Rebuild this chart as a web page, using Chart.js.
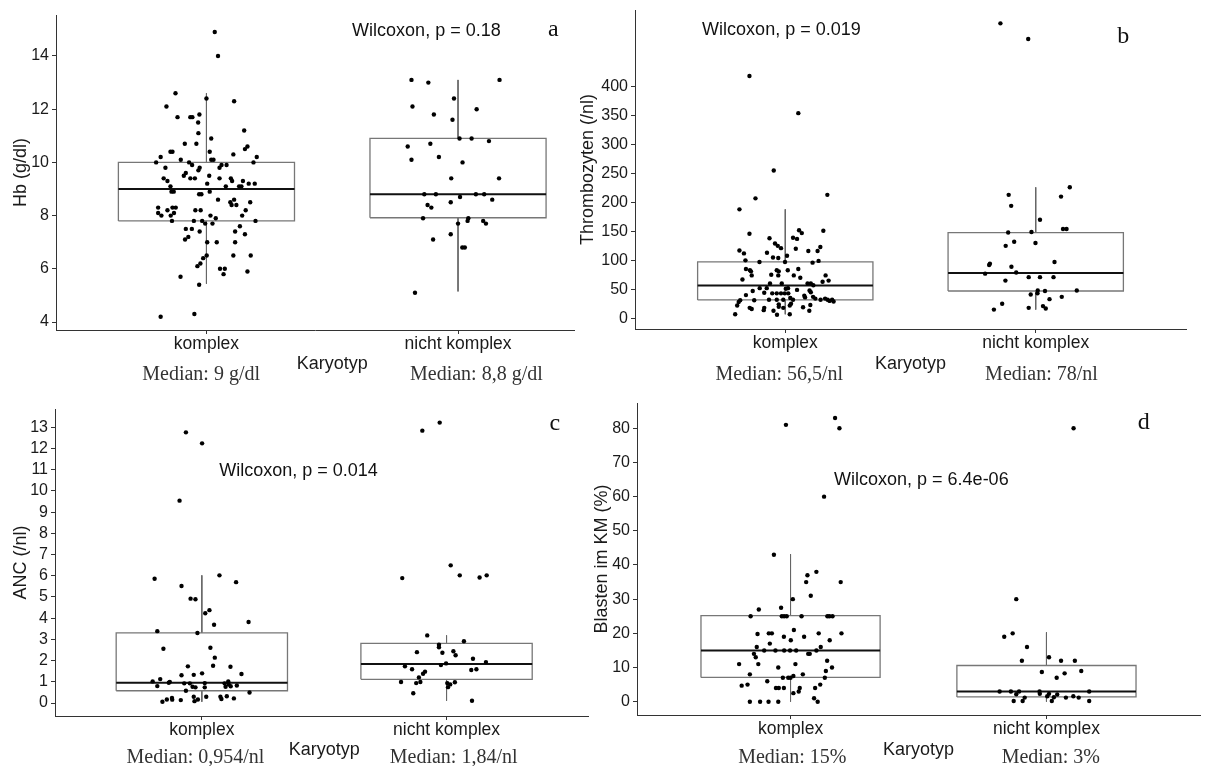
<!DOCTYPE html>
<html>
<head>
<meta charset="utf-8">
<script src="https://cdn.jsdelivr.net/npm/chart.js@4.4.1/dist/chart.umd.min.js"></script>
<style>
  body { margin: 0; background: #fff; width: 1205px; height: 766px; position: relative; overflow: hidden; }
  canvas { position: absolute; }
</style>
</head>
<body>
<canvas id="chartA" width="600" height="395" style="left:0;top:0"></canvas>
<canvas id="chartB" width="638" height="395" style="left:567px;top:0"></canvas>
<canvas id="chartC" width="600" height="371" style="left:0;top:395px"></canvas>
<canvas id="chartD" width="624" height="371" style="left:581px;top:395px"></canvas>
<script>
// categories on the x axis
const categories = ['komplex', 'nicht komplex'];

// tick labels of each panel
const hbTicks = [4, 6, 8, 10, 12, 14];
const pltTicks = [0, 50, 100, 150, 200, 250, 300, 350, 400];
const ancTicks = [0, 1, 2, 3, 4, 5, 6, 7, 8, 9, 10, 11, 12, 13];
const blastTicks = [0, 10, 20, 30, 40, 50, 60, 70, 80];

// box statistics [lower whisker, Q1, median, Q3, upper whisker]
const hbBoxes = [[5.44, 7.8, 9.0, 10.0, 12.6], [5.15, 7.92, 8.8, 10.9, 13.1]];
const pltBoxes = [[6.9, 31.6, 56.5, 97.2, 188], [14.9, 47.1, 78, 147.8, 226]];
const ancBoxes = [[0.06, 0.58, 0.954, 3.31, 6.02], [0.11, 1.12, 1.84, 2.81, 3.19]];
const blastBoxes = [[0, 7.1, 15, 25.2, 43.2], [0, 1.4, 3, 10.6, 20.3]];

// single observations: [jitter, value]
const hbKomplex = [[0.033,14.9],[0.046,14.0],[-0.123,12.6],[0.000,12.4],[0.110,12.3],[-0.159,12.1],[-0.028,11.8],[-0.115,11.7],[-0.064,11.7],[-0.056,11.7],[-0.033,11.5],[0.150,11.2],[-0.032,11.1],[0.019,10.9],[-0.086,10.7],[-0.040,10.7],[0.163,10.6],[0.153,10.5],[-0.143,10.4],[-0.135,10.4],[0.013,10.4],[0.107,10.3],[-0.182,10.2],[0.200,10.2],[-0.102,10.1],[0.019,10.1],[0.028,10.1],[-0.200,10.0],[0.187,10.0],[-0.069,10.0],[-0.057,9.9],[0.060,9.9],[0.080,9.9],[-0.163,9.8],[0.052,9.8],[-0.027,9.8],[-0.032,9.7],[-0.082,9.6],[-0.090,9.5],[0.011,9.5],[-0.170,9.4],[-0.155,9.3],[-0.064,9.4],[-0.046,9.4],[0.052,9.4],[0.097,9.4],[0.102,9.3],[0.003,9.2],[0.145,9.3],[0.168,9.2],[0.192,9.2],[0.077,9.1],[0.130,9.1],[0.139,9.1],[-0.143,9.1],[-0.139,8.9],[-0.130,8.9],[-0.029,8.8],[-0.020,8.8],[0.013,8.9],[0.046,8.6],[0.095,8.5],[0.100,8.4],[0.110,8.6],[0.119,8.4],[0.174,8.5],[-0.192,8.3],[-0.135,8.3],[-0.122,8.3],[-0.155,8.2],[-0.044,8.2],[-0.023,8.2],[0.156,8.2],[-0.192,8.1],[-0.129,8.1],[-0.179,8.0],[-0.142,8.0],[0.142,8.0],[0.016,8.0],[0.037,7.9],[-0.137,7.8],[-0.050,7.8],[-0.017,7.8],[-0.005,7.7],[0.024,7.7],[0.195,7.8],[0.133,7.6],[-0.082,7.5],[-0.058,7.5],[-0.027,7.4],[0.114,7.4],[-0.072,7.2],[-0.085,7.1],[0.153,7.3],[0.003,7.0],[0.041,7.0],[0.114,7.0],[0.001,6.5],[-0.013,6.4],[0.107,6.5],[0.176,6.5],[-0.024,6.2],[-0.036,6.1],[0.054,6.0],[0.073,6.0],[0.068,5.8],[0.163,5.9],[-0.103,5.7],[-0.029,5.4],[-0.182,4.2],[-0.048,4.3]];
const hbNicht = [[-0.185,13.1],[-0.118,13.0],[0.165,13.1],[-0.016,12.4],[-0.181,12.1],[0.074,12.0],[-0.096,11.8],[-0.022,11.6],[0.006,10.9],[0.054,10.9],[0.123,10.8],[-0.200,10.6],[-0.110,10.7],[-0.185,10.1],[-0.076,10.2],[0.018,10.0],[-0.027,9.4],[0.163,9.4],[-0.134,8.8],[-0.088,8.8],[0.071,8.8],[0.104,8.8],[0.008,8.7],[0.136,8.6],[-0.029,8.5],[-0.121,8.4],[-0.106,8.3],[-0.139,7.9],[0.041,7.9],[0.038,7.8],[0.100,7.8],[0.000,7.7],[0.111,7.7],[-0.029,7.3],[-0.099,7.1],[0.017,6.8],[0.027,6.8],[-0.171,5.1]];

const pltKomplex = [[-0.143,418],[0.052,354],[-0.046,255],[0.168,213],[-0.119,207],[-0.183,188],[-0.143,146],[0.055,152],[0.066,147],[0.152,151],[0.031,139],[0.047,137],[-0.063,138],[-0.041,129],[-0.030,125],[-0.017,121],[0.140,123],[0.042,120],[-0.183,117],[-0.165,112],[-0.073,113],[0.092,116],[0.129,116],[-0.049,105],[-0.028,104],[0.007,108],[-0.159,100],[0.109,96],[0.133,99],[-0.103,97],[-0.001,97],[-0.157,85],[-0.141,83],[-0.137,81],[-0.034,83],[-0.026,81],[0.010,83],[0.052,85],[-0.056,75],[-0.028,74],[0.034,74],[0.060,70],[-0.171,67],[-0.134,74],[0.161,74],[0.173,65],[-0.061,60],[-0.014,60],[0.089,60],[0.102,60],[0.112,57],[0.149,63],[-0.102,52],[-0.074,52],[0.002,51],[0.011,52],[0.047,49],[0.097,48],[0.102,45],[-0.130,47],[-0.084,44],[-0.052,43],[-0.034,43],[-0.017,43],[-0.002,43],[0.012,43],[-0.157,40],[0.076,39],[0.020,35],[0.079,36],[0.111,37],[0.120,34],[-0.124,31],[-0.065,32],[-0.034,32],[-0.008,32],[0.031,32],[0.141,32],[0.159,34],[0.169,32],[0.177,30],[0.187,32],[0.193,29],[-0.180,31],[-0.186,28],[-0.192,22],[-0.142,18],[-0.134,16],[-0.084,18],[-0.086,14],[-0.026,24],[-0.026,20],[-0.008,18],[0.018,22],[0.023,25],[0.071,19],[0.096,13],[0.100,23],[-0.047,13],[-0.200,7],[-0.033,6],[0.018,7]];
const pltNicht = [[-0.141,509],[-0.030,482],[0.136,226],[-0.108,213],[0.101,210],[-0.098,194],[0.017,170],[0.109,154],[0.123,154],[-0.110,148],[-0.017,149],[-0.086,132],[-0.120,125],[-0.001,130],[-0.183,94],[-0.186,92],[0.075,97],[-0.097,89],[-0.202,77],[-0.078,79],[-0.121,65],[-0.028,71],[0.017,71],[0.071,71],[0.008,48],[0.037,47],[0.164,48],[-0.020,41],[0.007,43],[0.055,33],[0.104,37],[-0.134,25],[-0.167,15],[-0.028,18],[0.029,21],[0.040,17]];

const ancKomplex = [[-0.065,12.76],[0.001,12.24],[-0.091,9.54],[-0.193,5.86],[0.072,6.02],[-0.083,5.52],[0.140,5.70],[-0.046,4.92],[-0.026,4.89],[0.031,4.38],[0.014,4.23],[0.050,3.69],[0.191,3.82],[-0.182,3.39],[-0.018,3.30],[-0.157,2.56],[0.035,2.61],[0.053,2.14],[-0.057,1.73],[0.046,1.76],[0.117,1.71],[0.162,1.37],[-0.083,1.31],[-0.033,1.33],[0.001,1.40],[-0.170,1.13],[-0.201,1.02],[-0.135,0.96],[-0.131,1.00],[-0.072,0.93],[-0.049,0.93],[0.012,0.94],[0.093,0.93],[0.108,1.02],[0.110,0.88],[-0.182,0.80],[-0.038,0.77],[-0.026,0.74],[0.012,0.74],[0.097,0.77],[0.118,0.79],[0.143,0.83],[-0.065,0.58],[0.195,0.50],[-0.161,0.06],[-0.143,0.17],[-0.122,0.24],[-0.121,0.16],[-0.086,0.14],[-0.030,0.09],[-0.033,0.30],[-0.016,0.17],[0.018,0.30],[0.076,0.30],[0.080,0.19],[0.102,0.32],[0.131,0.22]];
const ancNicht = [[-0.028,13.22],[-0.099,12.84],[0.017,6.49],[0.054,6.02],[-0.181,5.89],[0.135,5.92],[0.164,6.02],[-0.079,3.19],[0.071,2.91],[-0.031,2.75],[-0.031,2.63],[-0.121,2.40],[-0.017,2.37],[0.028,2.44],[0.037,2.25],[0.108,2.09],[0.161,1.93],[-0.002,1.87],[-0.023,1.79],[-0.170,1.73],[-0.141,1.59],[0.101,1.56],[0.122,1.59],[-0.088,1.48],[-0.096,1.38],[-0.113,1.21],[-0.186,0.99],[-0.124,0.94],[-0.107,0.99],[0.003,0.94],[0.015,0.88],[0.034,0.98],[0.006,0.75],[-0.136,0.46],[0.104,0.11]];

const blastKomplex = [[0.174,83],[-0.018,81],[0.191,80],[0.131,60],[-0.065,43],[0.101,38],[0.066,37],[0.061,35],[0.196,35],[0.079,31],[0.009,30],[-0.124,27],[-0.037,27.5],[-0.156,25],[-0.034,25],[-0.025,25],[-0.015,25],[0.043,25],[0.144,25],[0.152,25],[0.164,25],[-0.085,20],[-0.073,20],[-0.129,19.8],[0.110,20],[0.199,20],[0.013,21],[0.053,19],[-0.026,19],[0.001,18],[0.153,18],[-0.081,17],[-0.132,16],[0.118,16],[-0.103,15],[-0.059,15],[-0.025,15],[-0.002,15],[0.022,15],[0.101,15],[-0.143,14],[-0.136,13],[0.069,14],[0.075,14],[0.143,12],[-0.201,11],[-0.126,11],[0.019,11],[0.162,10],[-0.048,10],[0.138,9],[-0.159,8],[0.048,8],[-0.030,7],[-0.009,7],[0.000,7],[0.011,7.5],[0.134,7],[-0.091,6],[-0.191,4.7],[-0.168,5],[0.116,5],[-0.057,4],[-0.046,4],[-0.026,4],[0.096,4],[0.036,4],[0.032,3],[0.011,2.5],[0.092,1],[0.106,0],[-0.159,0],[-0.119,0],[-0.086,0],[-0.048,0]];
const blastNicht = [[0.106,80],[-0.118,30],[-0.165,19],[-0.132,20],[-0.076,16],[-0.096,12],[0.010,13],[0.057,12],[0.111,12],[-0.018,8.7],[0.136,9],[0.071,8.3],[0.040,7],[-0.183,3],[-0.139,3],[-0.107,3],[-0.027,3],[0.167,3],[-0.118,2.2],[-0.026,2.3],[0.010,2.3],[0.042,2.1],[0.003,1.6],[-0.085,1.2],[0.029,1.3],[0.076,1.2],[0.105,1.6],[0.126,1.2],[-0.128,0.2],[-0.093,0.2],[0.021,0.2],[0.167,0.2]];

const BOX_HALF = 0.35;
const SANS = '"Liberation Sans", Arial, sans-serif';
const SERIF = '"Liberation Serif", "Times New Roman", serif';

function notesPlugin(items) {
  return {
    id: 'notes',
    afterDraw(chart) {
      const { ctx, chartArea, scales } = chart;
      ctx.save();
      ctx.textBaseline = 'middle';
      items.forEach(n => {
        ctx.font = n.font;
        ctx.fillStyle = n.color || '#000';
        ctx.textAlign = n.align || 'center';
        const x = scales.x.getPixelForValue(n.x);
        const y = n.below != null ? chartArea.bottom + n.below : scales.y.getPixelForValue(n.y);
        ctx.fillText(n.text, x, y);
      });
      ctx.restore();
    }
  };
}

function makePanel(id, p) {
  const pointData = [];
  p.groups.forEach((g, i) => g.forEach(([j, v]) => pointData.push({ x: i + 1 + j, y: v })));

  const boxData = [], medData = [], whiskData = [];
  p.boxes.forEach(([lo, q1, med, q3, hi], i) => {
    const c = i + 1;
    boxData.push({ x: c - BOX_HALF, y: q1 }, { x: c + BOX_HALF, y: q1 }, { x: c + BOX_HALF, y: q3 },
                 { x: c - BOX_HALF, y: q3 }, { x: c - BOX_HALF, y: q1 }, { x: c, y: null });
    medData.push({ x: c - BOX_HALF, y: med }, { x: c + BOX_HALF, y: med }, { x: c, y: null });
    whiskData.push({ x: c, y: hi }, { x: c, y: q3 }, { x: c, y: null }, { x: c, y: q1 }, { x: c, y: lo }, { x: c, y: null });
  });

  const notes = [
    { text: 'Karyotyp', x: 1.5, below: p.karyBelow, font: '18px ' + SANS, color: '#1a1a1a' },
    { text: p.medians[0], x: p.medianX[0], below: p.medBelow, font: '20px ' + SERIF, color: '#333' },
    { text: p.medians[1], x: p.medianX[1], below: p.medBelow, font: '20px ' + SERIF, color: '#333' },
    { text: p.wilcoxon, x: p.wilcoxonAt[0], y: p.wilcoxonAt[1], font: '18px ' + SANS, color: '#111', align: 'left' },
    { text: p.letter, x: p.letterAt[0], y: p.letterAt[1], font: '24px ' + SERIF, color: '#111' }
  ];

  new Chart(document.getElementById(id), {
    type: 'scatter',
    data: {
      datasets: [
        { data: pointData, pointRadius: 2.2, pointBackgroundColor: '#000', pointBorderWidth: 0, pointHoverRadius: 2.2 },
        { data: medData, showLine: true, borderColor: '#111', borderWidth: 2, pointRadius: 0 },
        { data: boxData, showLine: true, borderColor: '#777', borderWidth: 1.3, pointRadius: 0 },
        { data: whiskData, showLine: true, borderColor: '#666', borderWidth: 1, pointRadius: 0 }
      ]
    },
    options: {
      responsive: false,
      animation: false,
      devicePixelRatio: 1,
      layout: { padding: { top: p.padTop, right: p.padRight, left: 0, bottom: 0 } },
      plugins: { legend: { display: false }, tooltip: { enabled: false } },
      scales: {
        x: {
          type: 'linear',
          min: p.xRange[0],
          max: p.xRange[1],
          afterBuildTicks: s => { s.ticks = categories.map((c, i) => ({ value: i + 1 })); },
          afterFit: s => { s.height = p.xHeight; s.paddingLeft = 0; s.paddingRight = 0; },
          ticks: {
            callback: v => categories[v - 1],
            font: { family: SANS, size: 17.5 },
            color: '#1a1a1a',
            padding: 0,
            maxRotation: 0,
            autoSkip: false
          },
          grid: { drawOnChartArea: false, drawTicks: true, tickLength: 4, color: '#333' },
          border: { color: '#333', width: 1 }
        },
        y: {
          min: p.yRange[0],
          max: p.yRange[1],
          afterBuildTicks: s => { s.ticks = p.yTicks.map(v => ({ value: v })); },
          afterFit: s => { s.width = p.yWidth; s.paddingTop = 0; s.paddingBottom = 0; },
          ticks: { font: { family: SANS, size: 16 }, color: '#1a1a1a', padding: 3, autoSkip: false },
          grid: { drawOnChartArea: false, drawTicks: true, tickLength: 4, color: '#333' },
          border: { color: '#333', width: 1 },
          title: { display: true, text: p.yTitle, font: { family: SANS, size: 18 }, color: '#1a1a1a', padding: { top: 10, bottom: 0 } }
        }
      }
    },
    plugins: [notesPlugin(notes)]
  });
}

makePanel('chartA', {
  groups: [hbKomplex, hbNicht], boxes: hbBoxes, yTicks: hbTicks,
  yRange: [3.7, 15.54], xRange: [0.402, 2.461],
  yTitle: 'Hb (g/dl)', yWidth: 56, xHeight: 65, padTop: 15, padRight: 26,
  medians: ['Median: 9 g/dl', 'Median: 8,8 g/dl'], medianX: [0.979, 2.073], medBelow: 45, karyBelow: 34,
  wilcoxon: 'Wilcoxon, p = 0.18', wilcoxonAt: [1.579, 14.94], letter: 'a', letterAt: [2.379, 14.98]
});

makePanel('chartB', {
  groups: [pltKomplex, pltNicht], boxes: pltBoxes, yTicks: pltTicks,
  yRange: [-18.5, 532], xRange: [0.4, 2.6],
  yTitle: 'Thrombozyten (/nl)', yWidth: 68, xHeight: 66, padTop: 10, padRight: 19,
  medians: ['Median: 56,5/nl', 'Median: 78/nl'], medianX: [0.976, 2.023], medBelow: 46, karyBelow: 35,
  wilcoxon: 'Wilcoxon, p = 0.019', wilcoxonAt: [0.668, 497.8], letter: 'b', letterAt: [2.349, 486]
});

makePanel('chartC', {
  groups: [ancKomplex, ancNicht], boxes: ancBoxes, yTicks: ancTicks,
  yRange: [-0.61, 13.86], xRange: [0.4, 2.578],
  yTitle: 'ANC (/nl)', yWidth: 55, xHeight: 50, padTop: 14, padRight: 12,
  medians: ['Median: 0,954/nl', 'Median: 1,84/nl'], medianX: [0.974, 2.029], medBelow: 42, karyBelow: 34,
  wilcoxon: 'Wilcoxon, p = 0.014', wilcoxonAt: [1.071, 10.95], letter: 'c', letterAt: [2.442, 13.15]
});

makePanel('chartD', {
  groups: [blastKomplex, blastNicht], boxes: blastBoxes, yTicks: blastTicks,
  yRange: [-3.89, 87.4], xRange: [0.4, 2.6],
  yTitle: 'Blasten im KM (%)', yWidth: 56, xHeight: 51, padTop: 8, padRight: 5,
  medians: ['Median: 15%', 'Median: 3%'], medianX: [1.007, 2.017], medBelow: 43, karyBelow: 35,
  wilcoxon: 'Wilcoxon, p = 6.4e-06', wilcoxonAt: [1.17, 64.9], letter: 'd', letterAt: [2.38, 81.6]
});
</script>
</body>
</html>
